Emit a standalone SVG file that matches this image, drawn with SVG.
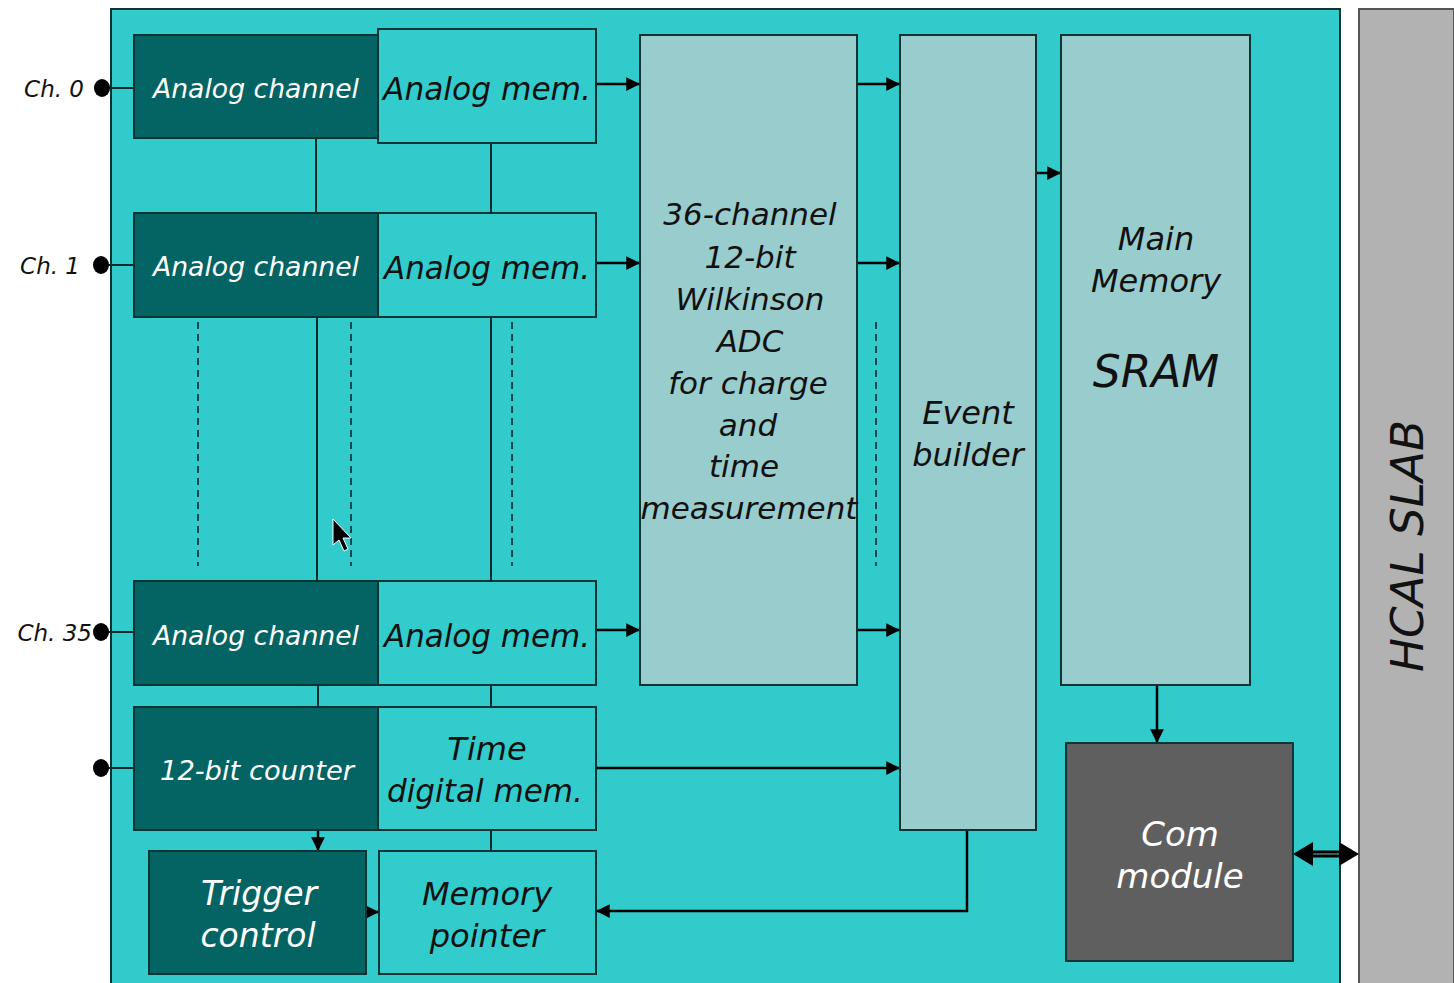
<svg xmlns="http://www.w3.org/2000/svg" width="1454" height="983" viewBox="0 0 1454 983">
<defs>
<marker id="ah" viewBox="0 0 10 10" refX="10" refY="5" markerWidth="6" markerHeight="5.5" orient="auto" markerUnits="strokeWidth"><path d="M0,0 L10,5 L0,10 z" fill="#000"/></marker>
<style>
.dark{fill:#046464;stroke:#0b3535;stroke-width:2}
.lite{fill:#33cccc;stroke:#0b3535;stroke-width:2}
.grey{fill:#99cccc;stroke:#0b3535;stroke-width:2}
.t{font-family:"DejaVu Sans",Verdana,sans-serif;font-style:italic;text-anchor:middle}
.w{fill:#ffffff}
.k{fill:#111111}
.ln{stroke:#0b2a2a;stroke-width:2;fill:none}
.ar{stroke:#000;stroke-width:2.5;fill:none;marker-end:url(#ah)}
.ds{stroke:#0b4a55;stroke-width:2;stroke-dasharray:7 5;fill:none}
</style>
</defs>
<rect x="0" y="0" width="1454" height="983" fill="#ffffff"/>
<g id="panel"><rect x="111" y="9" width="1229" height="980" fill="#31cbcb" stroke="#0b3535" stroke-width="2"/></g>
<g id="hcal"><rect x="1359" y="9" width="95" height="980" fill="#b2b2b2" stroke="#555" stroke-width="2"/>
<text class="t k" transform="translate(1423,546) rotate(-90)" font-size="44" textLength="252" lengthAdjust="spacingAndGlyphs">HCAL SLAB</text></g>

<g id="connectors">
<line class="ln" x1="316" y1="138" x2="316" y2="213"/>
<line class="ln" x1="317" y1="317" x2="317" y2="581"/>
<line class="ln" x1="318" y1="685" x2="318" y2="707"/>
<line class="ln" x1="491" y1="143" x2="491" y2="213"/>
<line class="ln" x1="491" y1="317" x2="491" y2="581"/>
<line class="ln" x1="491" y1="685" x2="491" y2="707"/>
<line class="ln" x1="491" y1="830" x2="491" y2="851"/>
<line class="ds" x1="198" y1="322" x2="198" y2="566"/>
<line class="ds" x1="351" y1="322" x2="351" y2="566"/>
<line class="ds" x1="512" y1="322" x2="512" y2="566"/>
<line class="ds" x1="876" y1="322" x2="876" y2="566"/>
<line class="ln" x1="102" y1="88" x2="134" y2="88"/>
<line class="ln" x1="101" y1="265" x2="134" y2="265"/>
<line class="ln" x1="101" y1="632" x2="134" y2="632"/>
<line class="ln" x1="101" y1="768" x2="134" y2="768"/>
<ellipse cx="102" cy="88" rx="8" ry="9" fill="#000"/>
<ellipse cx="101" cy="265" rx="8" ry="9" fill="#000"/>
<ellipse cx="101" cy="632" rx="8" ry="9" fill="#000"/>
<ellipse cx="101" cy="768" rx="8" ry="9" fill="#000"/>
<line class="ar" x1="596" y1="84" x2="640" y2="84"/>
<line class="ar" x1="596" y1="263" x2="640" y2="263"/>
<line class="ar" x1="596" y1="630" x2="640" y2="630"/>
<line class="ar" x1="853" y1="84" x2="900" y2="84"/>
<line class="ar" x1="853" y1="263" x2="900" y2="263"/>
<line class="ar" x1="853" y1="630" x2="900" y2="630"/>
<line class="ar" x1="1036" y1="173" x2="1061" y2="173"/>
<line class="ar" x1="596" y1="768" x2="900" y2="768"/>
<polyline class="ar" points="967,830 967,911 596,911"/>
<line class="ar" x1="1157" y1="685" x2="1157" y2="743"/>
<line class="ar" x1="318" y1="830" x2="318" y2="851"/>
<line class="ar" x1="360" y1="912" x2="379" y2="912"/>
<line x1="1306" y1="854" x2="1346" y2="854" stroke="#000" stroke-width="7"/>
<line x1="1306" y1="854" x2="1346" y2="854" stroke="#3a5a5a" stroke-width="2"/>
<path d="M1293,854 L1313,842 L1313,866 z" fill="#000"/>
<path d="M1359,854 L1339,842 L1339,866 z" fill="#000"/>
</g>

<g id="ch0-analog-channel"><rect class="dark" x="134" y="35" width="244" height="103"/><text class="t w" x="256" y="98" font-size="27" textLength="206" lengthAdjust="spacingAndGlyphs">Analog channel</text></g>
<g id="ch0-analog-mem"><rect class="lite" x="378" y="29" width="218" height="114"/><text class="t k" x="487" y="100" font-size="32" textLength="208" lengthAdjust="spacingAndGlyphs">Analog mem.</text></g>
<g id="ch1-analog-channel"><rect class="dark" x="134" y="213" width="244" height="104"/><text class="t w" x="256" y="276" font-size="27" textLength="206" lengthAdjust="spacingAndGlyphs">Analog channel</text></g>
<g id="ch1-analog-mem"><rect class="lite" x="378" y="213" width="218" height="104"/><text class="t k" x="487" y="279" font-size="32" textLength="206" lengthAdjust="spacingAndGlyphs">Analog mem.</text></g>
<g id="ch35-analog-channel"><rect class="dark" x="134" y="581" width="244" height="104"/><text class="t w" x="256" y="645" font-size="27" textLength="206" lengthAdjust="spacingAndGlyphs">Analog channel</text></g>
<g id="ch35-analog-mem"><rect class="lite" x="378" y="581" width="218" height="104"/><text class="t k" x="487" y="647" font-size="32" textLength="206" lengthAdjust="spacingAndGlyphs">Analog mem.</text></g>
<g id="counter"><rect class="dark" x="134" y="707" width="244" height="123"/><text class="t w" x="257" y="780" font-size="27" textLength="194" lengthAdjust="spacingAndGlyphs">12-bit counter</text></g>
<g id="time-mem"><rect class="lite" x="378" y="707" width="218" height="123"/><text class="t k" x="487" y="760" font-size="32">Time</text><text class="t k" x="485" y="802" font-size="32" textLength="196" lengthAdjust="spacingAndGlyphs">digital mem.</text></g>
<g id="trigger"><rect class="dark" x="149" y="851" width="217" height="123"/><text class="t w" x="259" y="905" font-size="33">Trigger</text><text class="t w" x="258" y="947" font-size="33">control</text></g>
<g id="mem-pointer"><rect class="lite" x="379" y="851" width="217" height="123"/><text class="t k" x="487" y="905" font-size="32">Memory</text><text class="t k" x="487" y="947" font-size="32">pointer</text></g>
<g id="adc"><rect class="grey" x="640" y="35" width="217" height="650"/>
<text class="t k" font-size="31"><tspan x="750" y="225">36-channel</tspan><tspan x="750" y="268">12-bit</tspan><tspan x="750" y="310">Wilkinson</tspan><tspan x="750" y="352">ADC</tspan><tspan x="748" y="394">for charge</tspan><tspan x="748" y="436">and</tspan><tspan x="744" y="477">time</tspan><tspan x="749" y="519">measurement</tspan></text></g>
<g id="event-builder"><rect class="grey" x="900" y="35" width="136" height="795"/><text class="t k" x="968" y="424" font-size="32">Event</text><text class="t k" x="968" y="466" font-size="32">builder</text></g>
<g id="main-memory"><rect class="grey" x="1061" y="35" width="189" height="650"/><text class="t k" x="1156" y="250" font-size="32">Main</text><text class="t k" x="1156" y="292" font-size="32">Memory</text><text class="t k" x="1156" y="387" font-size="44">SRAM</text></g>
<g id="com-module"><rect x="1066" y="743" width="227" height="218" fill="#5f5f5f" stroke="#0b3535" stroke-width="2"/><text class="t w" x="1180" y="846" font-size="34">Com</text><text class="t w" x="1180" y="888" font-size="34">module</text></g>

<g id="labels"><text class="t k" x="84" y="97" font-size="23" style="text-anchor:end">Ch. 0</text><text class="t k" x="80" y="274" font-size="23" style="text-anchor:end">Ch. 1</text><text class="t k" x="92" y="641" font-size="23" style="text-anchor:end">Ch. 35</text></g>
<g id="cursor"><path d="M333,519 L333,545 L339,540 L344,551 L348,549 L343,538 L351,538 z" fill="#000" stroke="#fff" stroke-width="1"/></g>
</svg>
